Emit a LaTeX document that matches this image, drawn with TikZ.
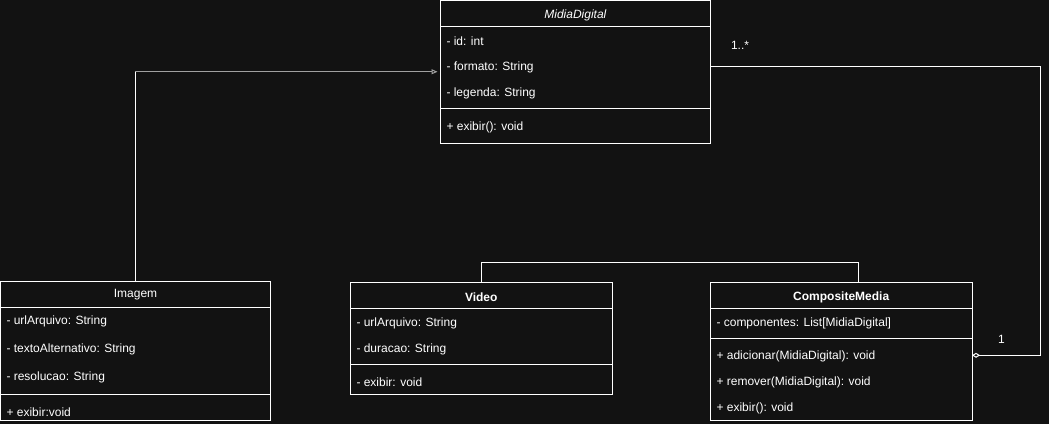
\documentclass[tikz,border=0pt]{standalone}
\usepackage{fontspec}
\setmainfont{Liberation Sans}
\usetikzlibrary{arrows.meta,positioning}
\definecolor{canvas}{HTML}{121212}
\definecolor{inherit}{HTML}{A0A0A0}
\tikzstyle{classbox} = [rectangle,
                       anchor=north west,
                       draw=white,
                       line width=1pt,
                       inner sep=0pt,
                       outer sep=0pt]
\tikzstyle{member} = [anchor=west,
                     inner sep=0pt,
                     yshift=-1pt,
                     text=white,
                     font=\fontsize{12}{14}\selectfont]
\tikzstyle{classname} = [member,
                        anchor=center]
\tikzstyle{uml} = [x=1pt,
                  y=-1pt,
                  line width=1pt,
                  draw=white]

\begin{document}
\begin{tikzpicture}[uml]
    \fill[canvas] (0,0) rectangle (1049,424);
    \useasboundingbox (0,0) rectangle (1049,424);
    % classes
    \node (midia) [classbox, minimum width=270pt, minimum height=142.5pt] at (440.5,0.5) {};
    \node (imagem) [classbox, minimum width=269.5pt, minimum height=139.5pt] at (0.5,281) {};
    \node (video) [classbox, minimum width=261.5pt, minimum height=111.5pt] at (350.5,282.5) {};
    \node (compo) [classbox, minimum width=261.5pt, minimum height=138pt] at (710.5,282.5) {};
    % compartments
    \draw[white] (440.5,26.5) -- (710.5,26.5);
    \draw[white] (440.5,108) -- (710.5,108);
    \draw[white] (0.5,307) -- (270,307);
    \draw[white] (0.5,394) -- (270,394);
    \draw[white] (350.5,308) -- (612,308);
    \draw[white] (350.5,364.5) -- (612,364.5);
    \draw[white] (710.5,308.5) -- (972,308.5);
    \draw[white] (710.5,338.5) -- (972,338.5);
    % MidiaDigital
    \node (midiaName) [classname] at (575.5,14) {\textit{MidiaDigital}};
    \node (midiaId) [member] at (446,40) {- id: int};
    \node (midiaFormato) [member] at (446,66) {- formato: String};
    \node (midiaLegenda) [member] at (446,92) {- legenda: String};
    \node (midiaExibir) [member] at (446,126) {+ exibir(): void};
    % Imagem
    \node (imagemName) [classname] at (135.5,294) {Imagem};
    \node (imagemUrl) [member] at (6,320) {- urlArquivo: String};
    \node (imagemTexto) [member] at (6,348) {- textoAlternativo: String};
    \node (imagemRes) [member] at (6,376) {- resolucao: String};
    \node (imagemExibir) [member] at (6,411) {+ exibir:void};
    % Video
    \node (videoName) [classname] at (481.25,296) {\textbf{Video}};
    \node (videoUrl) [member] at (356,322) {- urlArquivo: String};
    \node (videoDuracao) [member] at (356,348) {- duracao: String};
    \node (videoExibir) [member] at (356,381) {- exibir: void};
    % CompositeMedia
    \node (compoName) [classname] at (841.25,296) {\textbf{CompositeMedia}};
    \node (compoComp) [member] at (716,322) {- componentes: List[MidiaDigital]};
    \node (compoAdd) [member] at (716,355.5) {+ adicionar(MidiaDigital): void};
    \node (compoRem) [member] at (716,381.5) {+ remover(MidiaDigital): void};
    \node (compoExibir) [member] at (716,407) {+ exibir(): void};
    % connectors
    \coordinate (bendA) at (imagem.north |- midia.west);
    \draw[white] (imagem.north) -- (bendA);
    \draw[inherit, -{Triangle[open, length=6pt, width=5pt]}, shorten >=3pt] (bendA) -- (midia.west);
    \draw[white] (video.north) -- ++(0,-20) -| ([xshift=17pt]compo.north);
    \draw[white, -{Diamond[open, length=8pt, width=5pt]}]
      ([yshift=5.75pt]midia.east) -- ++(330,0) |- ([yshift=-3.8pt]compo.east);
    \node (multMany) [classname] at (740,44) {1..*};
    \node (multOne) [classname] at (1001.5,338) {1};
\end{tikzpicture}
\end{document}
